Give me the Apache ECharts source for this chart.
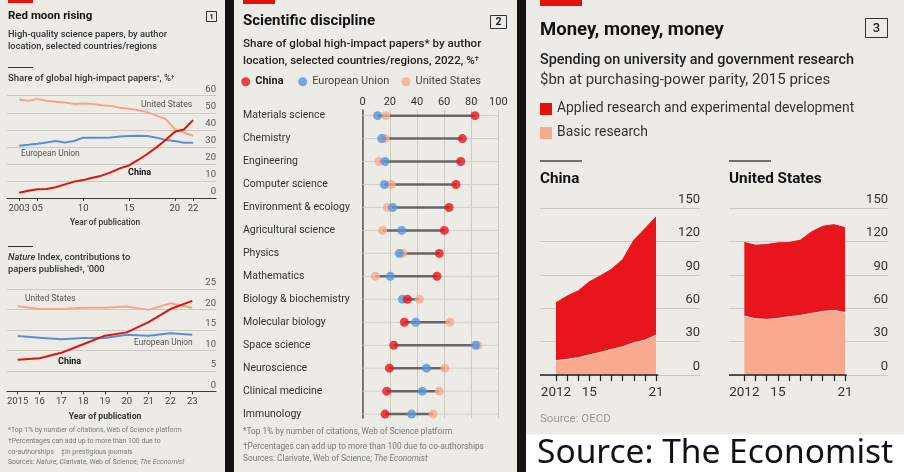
<!DOCTYPE html>
<html><head><meta charset="utf-8">
<script src="https://cdn.jsdelivr.net/npm/echarts@6/dist/echarts.min.js"></script>
<style>html,body{margin:0;padding:0;background:#ecebe5}#c{width:904px;height:472px}</style>
</head><body><div id="c"></div><script>
// ---------- DATA ----------
// Panel 1a: share of global high-impact papers, %
const p1Years = [2003,2004,2005,2006,2007,2008,2009,2010,2011,2012,2013,2014,2015,2016,2017,2018,2019,2020,2021,2022];
const p1US    = [57.8,57.0,58.0,57.0,56.5,56.0,55.2,55.4,55.2,54.4,54.0,53.0,52.3,51.5,50.4,48.3,46.3,40.5,38.3,36.5];
const p1EU    = [30.7,31.2,31.8,32.6,33.4,32.6,33.4,35.4,35.4,35.4,35.5,36.0,36.3,36.5,36.3,35.4,34.0,33.4,32.4,32.4];
const p1China = [3.1,4.3,5.1,5.3,6.3,8.0,9.6,10.5,11.9,13.1,15.0,17.4,19.1,22.3,25.8,29.7,34.0,38.9,40.2,45.7];
const p1Ticks = [2003,2005,2010,2015,2020,2022];
// Panel 1b: Nature Index contributions, '000
const p1bYears = [2015,2016,2017,2018,2019,2020,2021,2022,2023];
const p1bUS    = [20.8,20.1,20.1,20.4,20.4,20.7,19.9,21.5,20.4];
const p1bEU    = [13.5,13.1,12.7,13.0,13.0,13.8,13.6,14.2,13.8];
const p1bChina = [7.7,8.1,9.4,11.5,13.6,14.4,16.9,20.1,22.1];
// Panel 2: share by discipline, 2022, %
const disciplines = ['Materials science','Chemistry','Engineering','Computer science','Environment & ecology','Agricultural science','Physics','Mathematics','Biology & biochemistry','Molecular biology','Space science','Neuroscience','Clinical medicine','Immunology'];
const dChina = [82.8,73.5,72.3,68.8,63.7,60.2,56.5,54.8,33.0,30.7,22.9,19.7,17.7,16.5];
const dEU    = [11.0,14.0,16.5,16.0,22.1,28.8,27.0,20.4,29.3,39.1,83.3,47.0,44.0,36.1];
const dUS    = [17.0,16.5,12.0,21.0,18.2,14.7,29.5,9.3,41.8,64.4,84.8,60.7,56.5,51.9];
// Panel 3: spending, $bn PPP 2015 prices
const p3Years = [2012,2013,2014,2015,2016,2017,2018,2019,2020,2021];
const p3Labels = [2012,2015,2021];
const cnBasic   = [12.9,14.1,15.6,18.0,20.4,23.0,25.4,29.0,31.4,35.9];
const cnApplied = [52.1,56.9,60.1,65.8,68.8,72.2,78.5,92.3,100.3,106.3];
const usBasic   = [53.0,50.6,50.0,50.9,52.4,53.6,55.4,57.2,58.1,56.3];
const usApplied = [66.2,66.2,67.4,68.0,66.8,67.7,73.3,76.6,77.2,76.3];

// ---------- STYLE ----------
const FONT = 'Roboto, "Noto Sans", sans-serif';
const BG = '#ecebe5', DARK = '#141212';
const RED = '#e3120b', BLUE = '#5a8fd8', PINK = '#f6a48d';
const DOT_RED = '#e8141f', DOT_BLUE = '#5b93d8', DOT_PINK = '#f8aa90';
const AREA_RED = '#e8151d', AREA_PINK = '#f8a98e';
const GRID_C = '#cdcbc3';

const zip = (xs, ys) => xs.map((x, i) => [x, ys[i]]);
// value first, year second (so the stacked dimension is the value)
const zipVY = (xs, ys) => xs.map((x, i) => [ys[i], x]);
const yr2 = (first) => v => (v === first ? String(v) : String(v).slice(2));

function T(text, x, y, size, o) {
  return {type: 'text', silent: true, style: Object.assign({
    text, x, y, fontSize: size, fontFamily: FONT, fill: '#333',
    align: 'left', verticalAlign: 'middle', fontWeight: 'normal'}, o || {})};
}
function R(x, y, w, h, fill) { return {type: 'rect', silent: true, shape: {x, y, width: w, height: h}, style: {fill}}; }
function L(x1, y1, x2, y2, stroke, lw) { return {type: 'line', silent: true, shape: {x1, y1, x2, y2}, style: {stroke, lineWidth: lw || 1}}; }
function Box(x, y, w, h) { return {type: 'rect', silent: true, shape: {x, y, width: w, height: h}, style: {fill: 'none', stroke: '#333', lineWidth: 1}}; }

const sup = {s: {fontSize: 6, verticalAlign: 'top', fill: '#333', fontFamily: FONT, fontWeight: 500}};

function lineS(idx, name, xs, ys, color) {
  return {type: 'line', name, xAxisIndex: idx, yAxisIndex: idx, data: zip(xs, ys), symbol: 'none',
    lineStyle: {color, width: 2}, itemStyle: {color}, silent: true};
}
function areaS(idx, name, stack, xs, ys, fill, lineColor, z, extra) {
  return Object.assign({type: 'line', name, xAxisIndex: idx, yAxisIndex: idx, stack, data: zipVY(xs, ys), encode: {x: 1, y: 0},
    symbol: 'none', z, silent: true, lineStyle: {color: lineColor, width: 1}, areaStyle: {color: fill, opacity: 1}, itemStyle: {color: fill}}, extra || {});
}
const baseLine = (x0, x1) => ({markLine: {silent: true, symbol: ['none', 'none'], label: {show: false},
  lineStyle: {color: '#222', width: 1.5, type: 'solid'}, data: [[{coord: [x0, 0]}, {coord: [x1, 0]}]]}});

const graphic = [
  // separators & white footer
  R(225, 0, 9, 472, DARK), R(517, 0, 9, 472, DARK), R(526, 434.5, 378, 37.5, '#ffffff'),
  // red tabs
  R(8, 0, 25, 3, RED), R(243, 0, 32, 4, RED), R(540, 0, 42, 6, RED),
  // ---- Panel 1
  T('Red moon rising', 8, 16, 11.5, {fontWeight: 'bold', fill: '#121212'}),
  Box(206.5, 11.5, 10, 10), T('1', 211.5, 16.7, 8, {align: 'center', fontWeight: 'bold', fill: '#222'}),
  T('High-quality science papers, by author', 8, 35, 9.3, {fontWeight: 500, fill: '#333'}),
  T('location, selected countries/regions', 8, 47, 9.3, {fontWeight: 500, fill: '#333'}),
  L(8, 67.5, 33, 67.5, '#333', 1),
  T('Share of global high-impact papers{s|*}, %{s|†}', 8, 79, 9.5, {fontWeight: 500, fill: '#333', rich: sup}),
  T('United States', 141, 105, 8.6, {fill: '#555'}),
  T('European Union', 21, 154, 8.4, {fill: '#555'}),
  T('China', 128, 173, 9, {fontWeight: 'bold', fill: '#111'}),
  T('Year of publication', 105, 223, 8.4, {align: 'center', fontWeight: 500, fill: '#333'}),
  L(8, 246.5, 33, 246.5, '#333', 1),
  T('{i|Nature} Index, contributions to', 8, 258, 9.3, {fontWeight: 500, fill: '#333', rich: {i: {fontStyle: 'italic', fontSize: 9.3, fontWeight: 500, fill: '#333', fontFamily: FONT}}}),
  T('papers published{s|‡}, \'000', 8, 269.5, 9.3, {fontWeight: 500, fill: '#333', rich: sup}),
  T('United States', 25, 298.5, 8.5, {fill: '#555'}),
  T('European Union', 134, 343, 8.4, {fill: '#555'}),
  T('China', 58, 362, 9, {fontWeight: 'bold', fill: '#111'}),
  T('Year of publication', 105, 417, 8.6, {align: 'center', fontWeight: 'bold', fill: '#333'}),
  T('*Top 1% by number of citations, Web of Science platform', 8, 430, 6.9, {fill: '#7a7a7a'}),
  T('†Percentages can add up to more than 100 due to', 8, 441, 6.9, {fill: '#7a7a7a'}),
  T('co-authorships', 8, 452, 6.9, {fill: '#7a7a7a'}),
  T('‡In prestigious journals', 61, 452, 6.9, {fill: '#7a7a7a'}),
  T('Sources: {i|Nature}; Clarivate, Web of Science; {i|The Economist}', 8, 462.5, 6.9, {fill: '#7a7a7a', rich: {i: {fontStyle: 'italic', fontSize: 6.9, fill: '#7a7a7a', fontFamily: FONT}}}),
  // ---- Panel 2
  T('Scientific discipline', 243, 21, 15, {fontWeight: 'bold', fill: '#121212'}),
  Box(490.5, 15.5, 16, 13), T('2', 498.5, 22.3, 10.5, {align: 'center', fontWeight: 'bold', fill: '#222'}),
  T('Share of global high-impact papers* by author', 243, 44.5, 11.6, {fontWeight: 500, fill: '#222'}),
  T('location, selected countries/regions, 2022, %{s|†}', 243, 60.7, 11.6, {fontWeight: 500, fill: '#222', rich: {s: {fontSize: 7.5, verticalAlign: 'top', fill: '#222', fontFamily: FONT, fontWeight: 500}}}),
  T('*Top 1% by number of citations, Web of Science platform', 243, 432.3, 8.3, {fill: '#7a7a7a'}),
  T('†Percentages can add up to more than 100 due to co-authorships', 243, 446.7, 8.3, {fill: '#7a7a7a'}),
  T('Sources: Clarivate, Web of Science; {i|The Economist}', 243, 458.7, 8.3, {fill: '#7a7a7a', rich: {i: {fontStyle: 'italic', fontSize: 8.3, fill: '#7a7a7a', fontFamily: FONT}}}),
  // ---- Panel 3
  T('Money, money, money', 540, 30, 18.5, {fontWeight: 'bold', fill: '#121212'}),
  Box(865.5, 18.5, 22, 19), T('3', 876.5, 28.3, 13, {align: 'center', fontWeight: 500, fill: '#222'}),
  T('Spending on university and government research', 540, 60, 14.4, {fontWeight: 500, fill: '#222'}),
  T('$bn at purchasing-power parity, 2015 prices', 540, 80, 15, {fill: '#333'}),
  L(540, 161, 582, 161, '#444', 1.3), L(729, 161, 771, 161, '#444', 1.3),
  T('China', 540, 179.5, 15.3, {fontWeight: 'bold', fill: '#121212'}),
  T('United States', 729, 179.5, 15.3, {fontWeight: 'bold', fill: '#121212'}),
  T('Source: OECD', 540, 419.5, 11.5, {fill: '#999'}),
  T('Source: The Economist', 537, 453, 33.5, {fontFamily: '"Noto Sans", "Open Sans", sans-serif', fill: '#111'})
];

const legText = (bold) => ({fontSize: 11, fontFamily: FONT, color: bold ? '#222' : '#444', fontWeight: bold ? 'bold' : 'normal', lineHeight: 14});
const dotLegend = (name, left, color, bold) => ({data: [{name, itemStyle: {color}}], left, top: 74.7, icon: 'circle', itemWidth: 9, itemHeight: 9,
  padding: 0, selectedMode: false, textStyle: legText(bold)});

const option = {
  backgroundColor: BG,
  animation: false,
  textStyle: {fontFamily: FONT},
  graphic: {elements: graphic},
  legend: [
    dotLegend('China', 241.2, DOT_RED, true),
    dotLegend('European Union', 298.2, DOT_BLUE, false),
    dotLegend('United States', 401.5, DOT_PINK, false),
    {data: [{name: 'Applied research and experimental development', itemStyle: {color: RED}}, {name: 'Basic research', itemStyle: {color: AREA_PINK}}],
     orient: 'vertical', left: 540, top: 101, icon: 'rect', itemWidth: 12, itemHeight: 12, itemGap: 8, padding: 0, selectedMode: false,
     textStyle: {fontSize: 13.9, fontFamily: FONT, color: '#333', lineHeight: 16}}
  ],
  grid: [
    {left: 7, top: 95.7, width: 209, height: 102.3},
    {left: 7, top: 289, width: 209, height: 102.3},
    {left: 362.7, top: 110, width: 135.6, height: 308},
    {left: 540, top: 208.3, width: 160, height: 166.7},
    {left: 729, top: 208.3, width: 159, height: 166.7}
  ],
  xAxis: [
    {gridIndex: 0, type: 'value', min: 2001.68, max: 2024.5, splitLine: {show: false},
     axisLine: {show: true, onZero: false, lineStyle: {color: '#3a3a3a', width: 1}},
     axisTick: {show: true, customValues: p1Ticks, length: 3, lineStyle: {color: '#3a3a3a'}},
     axisLabel: {customValues: p1Ticks, formatter: yr2(2003), margin: 6, color: '#444', fontSize: 9.5, fontFamily: FONT}},
    {gridIndex: 1, type: 'value', min: 2014.51, max: 2024.09, splitLine: {show: false},
     axisLine: {show: true, onZero: false, lineStyle: {color: '#3a3a3a', width: 1}},
     axisTick: {show: true, customValues: p1bYears, length: 3, lineStyle: {color: '#3a3a3a'}},
     axisLabel: {customValues: p1bYears, formatter: yr2(2015), margin: 5, color: '#444', fontSize: 9.5, fontFamily: FONT}},
    {gridIndex: 2, type: 'value', min: 0, max: 100, interval: 20, position: 'top',
     axisLine: {show: false, onZero: false}, axisTick: {show: false},
     splitLine: {show: true, lineStyle: {color: GRID_C, width: 1}},
     axisLabel: {margin: 2, color: '#333', fontSize: 11, fontFamily: FONT}},
    {gridIndex: 3, type: 'value', min: 2010.56, max: 2024.96, splitLine: {show: false},
     axisLine: {show: false, onZero: false},
     axisTick: {show: true, customValues: p3Years, length: 6, lineStyle: {color: '#222', width: 1.2}},
     axisLabel: {customValues: p3Labels, formatter: yr2(2012), margin: 11, color: '#333', fontSize: 13.5, fontFamily: FONT}},
    {gridIndex: 4, type: 'value', min: 2010.63, max: 2024.84, splitLine: {show: false},
     axisLine: {show: false, onZero: false},
     axisTick: {show: true, customValues: p3Years, length: 6, lineStyle: {color: '#222', width: 1.2}},
     axisLabel: {customValues: p3Labels, formatter: yr2(2012), margin: 11, color: '#333', fontSize: 13.5, fontFamily: FONT}}
  ],
  yAxis: [
    {gridIndex: 0, type: 'value', min: 0, max: 60, interval: 10, position: 'right',
     axisLine: {show: false}, axisTick: {show: false}, splitLine: {lineStyle: {color: GRID_C}},
     axisLabel: {inside: true, margin: 0, verticalAlign: 'bottom', padding: [0, 0, 1, 0], color: '#555', fontSize: 9.5, fontFamily: FONT}},
    {gridIndex: 1, type: 'value', min: 0, max: 25, interval: 5, position: 'right',
     axisLine: {show: false}, axisTick: {show: false}, splitLine: {lineStyle: {color: GRID_C}},
     axisLabel: {inside: true, margin: 0, verticalAlign: 'bottom', padding: [0, 0, 1, 0], color: '#555', fontSize: 9.5, fontFamily: FONT}},
    {gridIndex: 2, type: 'value', inverse: true, min: -0.245, max: 13.17, position: 'left',
     axisLine: {show: true, onZero: false, lineStyle: {color: '#555', width: 1.5}}, axisTick: {show: false}, splitLine: {show: false},
     axisLabel: {customValues: disciplines.map((d, i) => i), formatter: v => disciplines[Math.round(v)], align: 'left', margin: 119.7,
       color: '#333', fontSize: 10.5, fontFamily: FONT}},
    {gridIndex: 3, type: 'value', min: 0, max: 150, interval: 30, position: 'right',
     axisLine: {show: false}, axisTick: {show: false}, splitLine: {lineStyle: {color: GRID_C}},
     axisLabel: {inside: true, margin: 0, verticalAlign: 'bottom', padding: [0, 0, 2, 0], color: '#333', fontSize: 13, fontFamily: FONT}},
    {gridIndex: 4, type: 'value', min: 0, max: 150, interval: 30, position: 'right',
     axisLine: {show: false}, axisTick: {show: false}, splitLine: {lineStyle: {color: GRID_C}},
     axisLabel: {inside: true, margin: 0, verticalAlign: 'bottom', padding: [0, 0, 2, 0], color: '#333', fontSize: 13, fontFamily: FONT}}
  ],
  series: [
    lineS(0, 'US share', p1Years, p1US, PINK),
    lineS(0, 'EU share', p1Years, p1EU, BLUE),
    lineS(0, 'China share', p1Years, p1China, RED),
    lineS(1, 'US nature', p1bYears, p1bUS, PINK),
    lineS(1, 'EU nature', p1bYears, p1bEU, BLUE),
    lineS(1, 'China nature', p1bYears, p1bChina, RED),
    {type: 'custom', name: 'range', xAxisIndex: 2, yAxisIndex: 2, silent: true, z: 1,
     data: disciplines.map((d, i) => [i, Math.min(dChina[i], dEU[i], dUS[i]), Math.max(dChina[i], dEU[i], dUS[i])]),
     encode: {x: [1, 2], y: 0},
     renderItem: (params, api) => {
       const i = api.value(0), lo = api.value(1), hi = api.value(2);
       const p0 = api.coord([0, i]), p1 = api.coord([100, i]);
       const a = api.coord([lo, i]), b = api.coord([hi, i]);
       return {type: 'group', children: [
         {type: 'line', shape: {x1: p0[0], y1: p0[1], x2: p1[0], y2: p1[1]}, style: {stroke: '#d3d0c8', lineWidth: 1}},
         {type: 'line', shape: {x1: a[0], y1: a[1], x2: b[0], y2: b[1]}, style: {stroke: '#666', lineWidth: 2.5}}
       ]};
     }},
    {type: 'scatter', name: 'United States', xAxisIndex: 2, yAxisIndex: 2, data: dUS.map((v, i) => [v, i]), symbolSize: 9, itemStyle: {color: DOT_PINK}, z: 3, silent: true},
    {type: 'scatter', name: 'European Union', xAxisIndex: 2, yAxisIndex: 2, data: dEU.map((v, i) => [v, i]), symbolSize: 9, itemStyle: {color: DOT_BLUE}, z: 4, silent: true},
    {type: 'scatter', name: 'China', xAxisIndex: 2, yAxisIndex: 2, data: dChina.map((v, i) => [v, i]), symbolSize: 9, itemStyle: {color: DOT_RED}, z: 5, silent: true},
    areaS(3, 'Basic research', 'cn', p3Years, cnBasic, AREA_PINK, '#fbdcd0', 4, baseLine(2010.56, 2021.2)),
    areaS(3, 'Applied research and experimental development', 'cn', p3Years, cnApplied, AREA_RED, AREA_RED, 3),
    areaS(4, 'Basic research', 'us', p3Years, usBasic, AREA_PINK, '#fbdcd0', 4, baseLine(2010.63, 2021.15)),
    areaS(4, 'Applied research and experimental development', 'us', p3Years, usApplied, AREA_RED, AREA_RED, 3)
  ]
};
const chart = echarts.init(document.getElementById('c'), null, {renderer: 'canvas'});
chart.setOption(option);
</script></body></html>
